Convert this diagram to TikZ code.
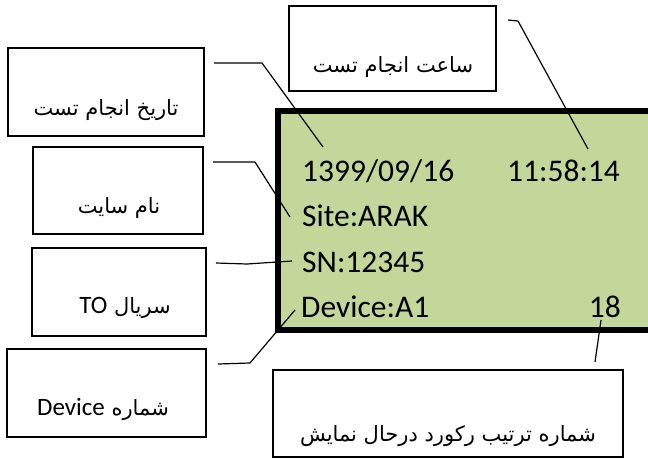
\documentclass[tikz,border=0pt]{standalone}
\usepackage{fontspec}
\setmainfont{Carlito}
\newfontfamily\fa[Script=Arabic]{DejaVu Sans}
\newfontfamily\carl{Carlito}
\TeXXeTstate=1
\definecolor{lcdgreen}{RGB}{196,215,155}
\newcommand{\latinword}[1]{\beginL{\carl\fontsize{25}{28}\selectfont #1}\endL}
\tikzset{
  box/.style={draw=black, line width=1.2pt, fill=white},
  conn/.style={draw=black, line width=1.2pt, line join=round},
  ptext/.style={anchor=base, inner sep=0pt, font=\fa\fontsize{21}{24}\selectfont},
  lcdtext/.style={anchor=base west, inner sep=0pt, font=\carl\fontsize{31.5}{34}\selectfont},
}
\begin{document}
\begin{tikzpicture}[x=1pt,y=-1pt]
\useasboundingbox (0,0) rectangle (648,458);
% LCD panel
\fill[lcdgreen] (278,111) rectangle (648,330);
\draw[line width=6pt, line join=miter] (652,111) -- (278,111) -- (278,330) -- (652,330);
% LCD texts
\node[lcdtext] (date) at (302,181) {1399/09/16};
\node[lcdtext] (time) at (507,181) {11:58:14};
\node[lcdtext] (site) at (302,226.5) {Site:ARAK};
\node[lcdtext] (sn) at (302,272) {SN:12345};
\node[lcdtext] (dev) at (301,317) {Device:A1};
\node[lcdtext, anchor=base east] (rec) at (621,317) {18};
% boxes
\draw[box] (289,6) rectangle (496,91);
\draw[box] (8,48) rectangle (204,136);
\draw[box] (33,147) rectangle (203,234);
\draw[box] (32,248) rectangle (206,336);
\draw[box] (7,349) rectangle (206,437);
\draw[box] (273,370) rectangle (623,457);
% box texts
\node[ptext] (ttime) at (393,72) {\beginR ساعت انجام تست\endR};
\node[ptext] (tdate) at (106,115) {\beginR تاریخ انجام تست\endR};
\node[ptext] (tsite) at (119,213) {\beginR نام سایت\endR};
\node[ptext] (tsn) at (125,313) {\beginR سریال \latinword{TO}\endR};
\node[ptext] (tdev) at (103,415) {\beginR شماره \latinword{Device}\endR};
\node[ptext] (trec) at (448,441) {\beginR شماره ترتیب رکورد درحال نمایش\endR};
% connector points
\coordinate (a1) at (508,20);
\coordinate (a2) at (518,21);
\coordinate (a3) at (588,149);
\coordinate (b1) at (214,63);
\coordinate (b2) at (262,63);
\coordinate (b3) at (323,147);
\coordinate (c1) at (213,162);
\coordinate (c2) at (255,162);
\coordinate (c3) at (290,217);
\coordinate (d1) at (216,263);
\coordinate (d2) at (247,264);
\coordinate (d3) at (292,261);
\coordinate (e1) at (218,364);
\coordinate (e2) at (250,363);
\coordinate (e3) at (295,310);
\coordinate (f1) at (601,320);
\coordinate (f2) at (595,362);
% connectors
\draw[conn] (a1) -- (a2) -- (a3);
\draw[conn] (b1) -- (b2) -- (b3);
\draw[conn] (c1) -- (c2) -- (c3);
\draw[conn] (d1) -- (d2) -- (d3);
\draw[conn] (e1) -- (e2) -- (e3);
\draw[conn] (f1) -- (f2);
\end{tikzpicture}
\end{document}
